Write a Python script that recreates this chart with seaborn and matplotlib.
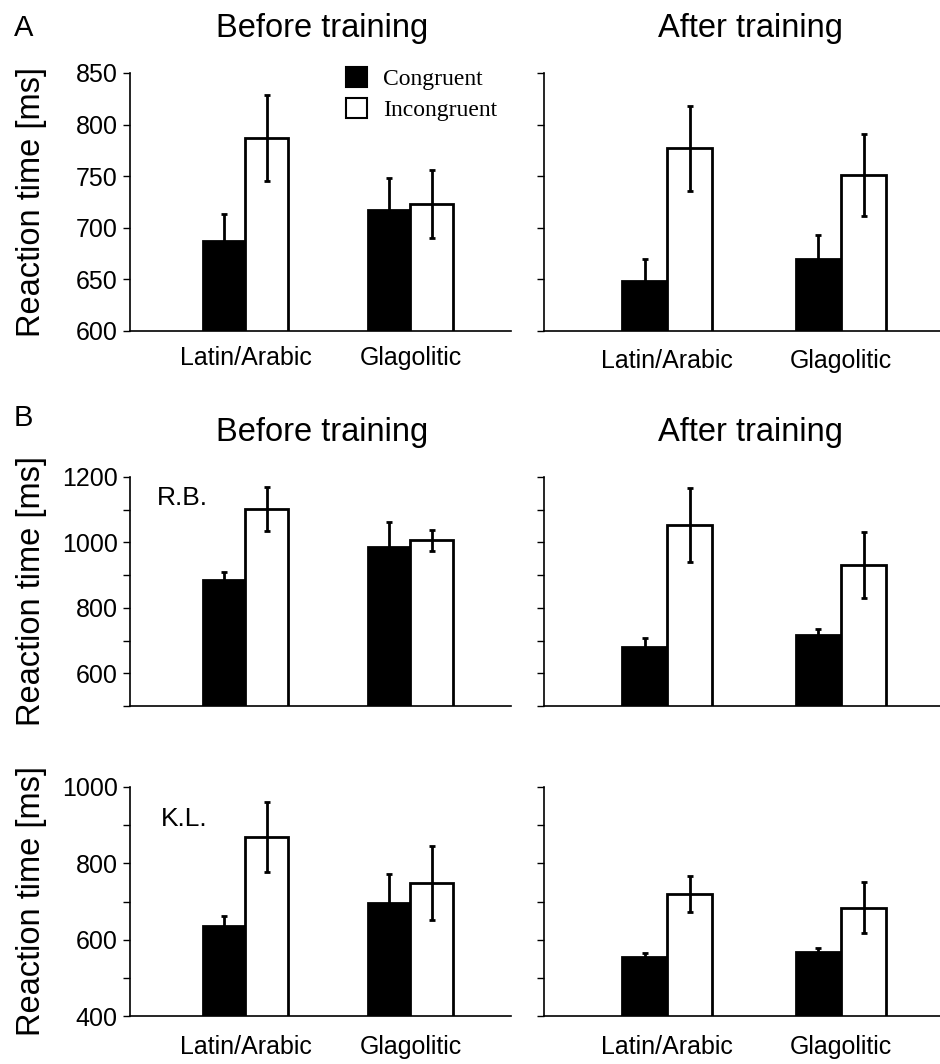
import matplotlib
matplotlib.use('Agg')
import matplotlib.pyplot as plt
from matplotlib.patches import Patch
import pandas as pd
import seaborn as sns

scripts = ['Latin/Arabic', 'Glagolitic']
conditions = ['Congruent', 'Incongruent']

# A: group means (before / after training)
a_before_cong = [687, 717]
a_before_incong = [787, 723]
a_before_cong_err = [26, 31]
a_before_incong_err = [42, 33]
a_after_cong = [648, 670]
a_after_incong = [777, 751]
a_after_cong_err = [22, 23]
a_after_incong_err = [41, 40]

# B: subject R.B.
rb_before_cong = [885, 986]
rb_before_incong = [1102, 1007]
rb_before_cong_err = [25, 76]
rb_before_incong_err = [67, 32]
rb_after_cong = [680, 716]
rb_after_incong = [1053, 931]
rb_after_cong_err = [27, 19]
rb_after_incong_err = [113, 102]

# B: subject K.L.
kl_before_cong = [636, 696]
kl_before_incong = [869, 748]
kl_before_cong_err = [26, 76]
kl_before_incong_err = [93, 97]
kl_after_cong = [555, 568]
kl_after_incong = [720, 684]
kl_after_cong_err = [10, 10]
kl_after_incong_err = [48, 67]

sns.set_style('ticks')
plt.rcParams['font.family'] = ['Liberation Sans', 'DejaVu Sans']
plt.rcParams.update({'text.color': 'black', 'axes.labelcolor': 'black',
                     'xtick.color': 'black', 'ytick.color': 'black',
                     'axes.edgecolor': 'black'})

W, H = 940, 1064
fig = plt.figure(figsize=(W / 100, H / 100), dpi=100)


def make_ax(left_px, top_px, right_px, bottom_px):
    return fig.add_axes([left_px / W, 1 - bottom_px / H,
                         (right_px - left_px) / W, (bottom_px - top_px) / H])


def draw_panel(ax, cong, incong, cong_err, incong_err, ylim, yticks, ylabels,
               xlim, show_x=True, show_y=True, xpad=12):
    df = pd.DataFrame({
        'script': scripts * 2,
        'condition': [c for c in conditions for _ in scripts],
        'rt': cong + incong,
    })
    sns.barplot(data=df, x='script', y='rt', hue='condition', order=scripts,
                hue_order=conditions, palette=['black', 'white'], saturation=1,
                edgecolor='black', linewidth=2, width=0.52, gap=0,
                errorbar=None, legend=False, ax=ax)
    for cont, errs in zip(ax.containers, [cong_err, incong_err]):
        xs = [p.get_x() + p.get_width() / 2 for p in cont]
        ax.errorbar(xs, cont.datavalues, yerr=errs, fmt='none', ecolor='black',
                    elinewidth=2, capsize=2.5, capthick=2, zorder=5)
    ax.set_ylim(*ylim)
    ax.set_xlim(*xlim)
    ax.set_yticks(yticks)
    ax.set_yticklabels(ylabels if show_y else [''] * len(yticks))
    ax.set_xlabel('')
    if show_y:
        ax.set_ylabel('Reaction time [ms]', fontsize=23.5)
        ax.yaxis.set_label_coords(-0.217, 0.5)
    else:
        ax.set_ylabel('')
    if not show_x:
        ax.set_xticklabels([])
    sns.despine(ax=ax)
    for s in ['left', 'bottom']:
        ax.spines[s].set_linewidth(1.2)
    ax.tick_params(axis='y', direction='out', length=5, width=1, labelsize=18, pad=4)
    ax.tick_params(axis='x', length=0, labelsize=18, pad=xpad)


lx = (130, 511)
rx = (544, 940)
rows = [(73, 331), (477, 706), (787, 1016)]
xlim_l = (-0.70, 1.61)
xlim_r = (-0.71, 1.57)

tA = [600, 650, 700, 750, 800, 850]
tB1 = [500, 600, 700, 800, 900, 1000, 1100, 1200]
lB1 = ['', '600', '', '800', '', '1000', '', '1200']
tB2 = [400, 500, 600, 700, 800, 900, 1000]
lB2 = ['400', '', '600', '', '800', '', '1000']

ax = make_ax(lx[0], rows[0][0], lx[1], rows[0][1])
draw_panel(ax, a_before_cong, a_before_incong, a_before_cong_err, a_before_incong_err,
           (600, 850), tA, [str(t) for t in tA], xlim_l, xpad=11)
handles = [Patch(facecolor='black', edgecolor='black', linewidth=1.5),
           Patch(facecolor='white', edgecolor='black', linewidth=1.5)]
ax.legend(handles, conditions, loc='upper left', bbox_to_anchor=(0.51, 1.105),
          frameon=False, handlelength=0.9, handleheight=0.9, handletextpad=0.7,
          labelspacing=0.35, prop={'family': 'Liberation Serif', 'size': 17})

ax = make_ax(rx[0], rows[0][0], rx[1], rows[0][1])
draw_panel(ax, a_after_cong, a_after_incong, a_after_cong_err, a_after_incong_err,
           (600, 850), tA, [str(t) for t in tA], xlim_r, show_y=False, xpad=13)

ax = make_ax(lx[0], rows[1][0], lx[1], rows[1][1])
draw_panel(ax, rb_before_cong, rb_before_incong, rb_before_cong_err, rb_before_incong_err,
           (500, 1200), tB1, lB1, xlim_l, show_x=False)
ax.text(0.07, 0.91, 'R.B.', transform=ax.transAxes, fontsize=19, va='center')

ax = make_ax(rx[0], rows[1][0], rx[1], rows[1][1])
draw_panel(ax, rb_after_cong, rb_after_incong, rb_after_cong_err, rb_after_incong_err,
           (500, 1200), tB1, lB1, xlim_r, show_x=False, show_y=False)

ax = make_ax(lx[0], rows[2][0], lx[1], rows[2][1])
draw_panel(ax, kl_before_cong, kl_before_incong, kl_before_cong_err, kl_before_incong_err,
           (400, 1000), tB2, lB2, xlim_l, xpad=14)
ax.text(0.08, 0.86, 'K.L.', transform=ax.transAxes, fontsize=19, va='center')

ax = make_ax(rx[0], rows[2][0], rx[1], rows[2][1])
draw_panel(ax, kl_after_cong, kl_after_incong, kl_after_cong_err, kl_after_incong_err,
           (400, 1000), tB2, lB2, xlim_r, show_y=False, xpad=14)

# titles and panel letters
for y_px in [28, 432]:
    fig.text(322 / W, 1 - y_px / H, 'Before training', fontsize=23.5, ha='center', va='center')
    fig.text(750 / W, 1 - y_px / H, 'After training', fontsize=23.5, ha='center', va='center')
fig.text(14 / W, 1 - 28 / H, 'A', fontsize=21, va='center')
fig.text(14 / W, 1 - 418 / H, 'B', fontsize=21, va='center')

fig.savefig('out.png', dpi=100, facecolor='white')
